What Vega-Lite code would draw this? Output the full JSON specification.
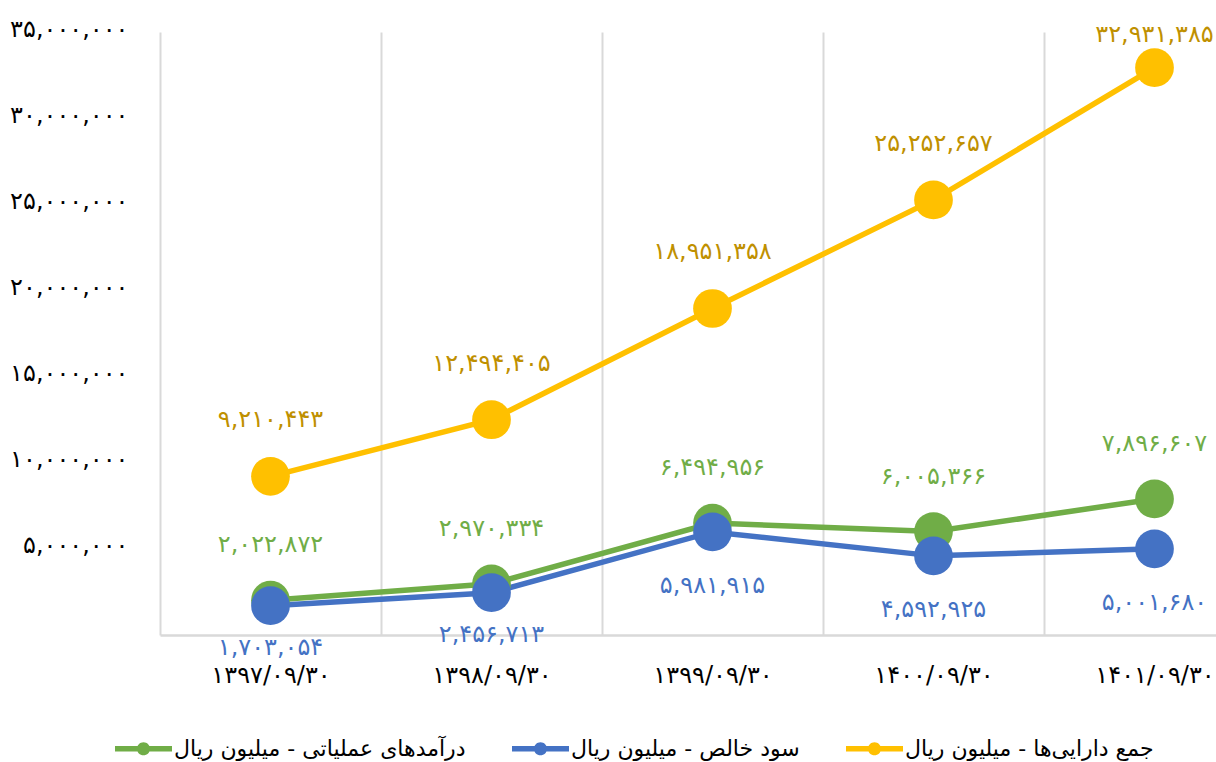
{
  "$schema": "https://vega.github.io/schema/vega-lite/v6.json",
  "autosize": "none",
  "width": 1056,
  "height": 603,
  "padding": {"left": 160, "top": 32, "right": 0, "bottom": 127},
  "background": "white",
  "config": {
    "font": "DejaVu Sans",
    "view": {"stroke": null}
  },
  "data": {
    "values": [
      {"date": "۱۳۹۷/۰۹/۳۰", "series": "درآمدهای عملیاتی - میلیون ریال", "value": 2022872, "label": "۲,۰۲۲,۸۷۲"},
      {"date": "۱۳۹۸/۰۹/۳۰", "series": "درآمدهای عملیاتی - میلیون ریال", "value": 2970334, "label": "۲,۹۷۰,۳۳۴"},
      {"date": "۱۳۹۹/۰۹/۳۰", "series": "درآمدهای عملیاتی - میلیون ریال", "value": 6494956, "label": "۶,۴۹۴,۹۵۶"},
      {"date": "۱۴۰۰/۰۹/۳۰", "series": "درآمدهای عملیاتی - میلیون ریال", "value": 6005366, "label": "۶,۰۰۵,۳۶۶"},
      {"date": "۱۴۰۱/۰۹/۳۰", "series": "درآمدهای عملیاتی - میلیون ریال", "value": 7896607, "label": "۷,۸۹۶,۶۰۷"},
      {"date": "۱۳۹۷/۰۹/۳۰", "series": "سود خالص - میلیون ریال", "value": 1703054, "label": "۱,۷۰۳,۰۵۴"},
      {"date": "۱۳۹۸/۰۹/۳۰", "series": "سود خالص - میلیون ریال", "value": 2456713, "label": "۲,۴۵۶,۷۱۳"},
      {"date": "۱۳۹۹/۰۹/۳۰", "series": "سود خالص - میلیون ریال", "value": 5981915, "label": "۵,۹۸۱,۹۱۵"},
      {"date": "۱۴۰۰/۰۹/۳۰", "series": "سود خالص - میلیون ریال", "value": 4592925, "label": "۴,۵۹۲,۹۲۵"},
      {"date": "۱۴۰۱/۰۹/۳۰", "series": "سود خالص - میلیون ریال", "value": 5001680, "label": "۵,۰۰۱,۶۸۰"},
      {"date": "۱۳۹۷/۰۹/۳۰", "series": "جمع دارایی‌ها - میلیون ریال", "value": 9210443, "label": "۹,۲۱۰,۴۴۳"},
      {"date": "۱۳۹۸/۰۹/۳۰", "series": "جمع دارایی‌ها - میلیون ریال", "value": 12494405, "label": "۱۲,۴۹۴,۴۰۵"},
      {"date": "۱۳۹۹/۰۹/۳۰", "series": "جمع دارایی‌ها - میلیون ریال", "value": 18951358, "label": "۱۸,۹۵۱,۳۵۸"},
      {"date": "۱۴۰۰/۰۹/۳۰", "series": "جمع دارایی‌ها - میلیون ریال", "value": 25252657, "label": "۲۵,۲۵۲,۶۵۷"},
      {"date": "۱۴۰۱/۰۹/۳۰", "series": "جمع دارایی‌ها - میلیون ریال", "value": 32931385, "label": "۳۲,۹۳۱,۳۸۵"}
    ]
  },
  "encoding": {
    "x": {
      "field": "date",
      "type": "ordinal",
      "sort": null,
      "scale": {"type": "band", "range": [0, 1105], "paddingInner": 0, "paddingOuter": 0},
      "axis": {
        "title": null,
        "labelAngle": 0,
        "labelFont": "DejaVu Sans",
        "labelFontSize": 24,
        "labelColor": "#000000",
        "labelBaseline": "middle",
        "labelPadding": 40,
        "ticks": false,
        "domainColor": "#d9d9d9",
        "domainWidth": 2.5,
        "grid": true,
        "gridColor": "#d9d9d9",
        "gridWidth": 2,
        "tickBand": "extent"
      }
    },
    "y": {
      "field": "value",
      "type": "quantitative",
      "scale": {"domain": [0, 35000000], "nice": false},
      "axis": {
        "title": null,
        "values": [0, 5000000, 10000000, 15000000, 20000000, 25000000, 30000000, 35000000],
        "grid": false,
        "domain": false,
        "ticks": false,
        "labelPadding": 32,
        "labelOffset": -3,
        "labelFont": "DejaVu Sans",
        "labelFontSize": 24,
        "labelColor": "#000000",
        "labelExpr": "datum.value == 0 ? '' : replace(replace(replace(replace(replace(replace(replace(replace(replace(replace(format(datum.value, ','), regexp('0','g'), '۰'), regexp('1','g'), '۱'), regexp('2','g'), '۲'), regexp('3','g'), '۳'), regexp('4','g'), '۴'), regexp('5','g'), '۵'), regexp('6','g'), '۶'), regexp('7','g'), '۷'), regexp('8','g'), '۸'), regexp('9','g'), '۹')"
      }
    }
  },
  "layer": [
    {
      "mark": {"type": "line", "strokeWidth": 5.5},
      "encoding": {
        "color": {
          "field": "series",
          "type": "nominal",
          "scale": {
            "domain": ["درآمدهای عملیاتی - میلیون ریال", "سود خالص - میلیون ریال", "جمع دارایی‌ها - میلیون ریال"],
            "range": ["#70ad47", "#4472c4", "#ffc000"]
          },
          "legend": {
            "title": null,
            "orient": "none",
            "direction": "horizontal",
            "legendX": -45,
            "legendY": 688,
            "symbolType": "M-1,-0.1L1,-0.1L1,0.1L-1,0.1Z M-0.23,0A0.23,0.23 0 1,1 0.23,0A0.23,0.23 0 1,1 -0.23,0Z",
            "symbolSize": 3249,
            "symbolStrokeWidth": 0,
            "labelFont": "DejaVu Sans",
            "labelFontSize": 22,
            "labelColor": "#000000",
            "labelLimit": 500,
            "labelOffset": 2,
            "columnPadding": 46,
            "encode": {
              "symbols": {"update": {"fill": {"scale": "color", "field": "value"}, "strokeWidth": {"value": 0}}}
            }
          }
        }
      }
    },
    {
      "mark": {"type": "point", "filled": true, "size": 1500, "opacity": 1},
      "encoding": {
        "color": {"field": "series", "type": "nominal"}
      }
    },
    {
      "transform": [{"filter": "datum.series == 'درآمدهای عملیاتی - میلیون ریال'"}],
      "mark": {"type": "text", "dy": -55, "fontSize": 24, "font": "DejaVu Sans", "color": "#70ad47"},
      "encoding": {"text": {"field": "label"}}
    },
    {
      "transform": [{"filter": "datum.series == 'سود خالص - میلیون ریال' && (datum.date == '۱۳۹۷/۰۹/۳۰' || datum.date == '۱۳۹۸/۰۹/۳۰')"}],
      "mark": {"type": "text", "dy": 42, "fontSize": 24, "font": "DejaVu Sans", "color": "#4472c4"},
      "encoding": {"text": {"field": "label"}}
    },
    {
      "transform": [{"filter": "datum.series == 'سود خالص - میلیون ریال' && datum.date != '۱۳۹۷/۰۹/۳۰' && datum.date != '۱۳۹۸/۰۹/۳۰'"}],
      "mark": {"type": "text", "dy": 54, "fontSize": 24, "font": "DejaVu Sans", "color": "#4472c4"},
      "encoding": {"text": {"field": "label"}}
    },
    {
      "transform": [{"filter": "datum.series == 'جمع دارایی‌ها - میلیون ریال' && datum.date != '۱۴۰۱/۰۹/۳۰'"}],
      "mark": {"type": "text", "dy": -56, "fontSize": 24, "font": "DejaVu Sans", "color": "#bf9000"},
      "encoding": {"text": {"field": "label"}}
    },
    {
      "transform": [{"filter": "datum.series == 'جمع دارایی‌ها - میلیون ریال' && datum.date == '۱۴۰۱/۰۹/۳۰'"}],
      "mark": {"type": "text", "dy": -33, "fontSize": 24, "font": "DejaVu Sans", "color": "#bf9000"},
      "encoding": {"text": {"field": "label"}}
    }
  ]
}
